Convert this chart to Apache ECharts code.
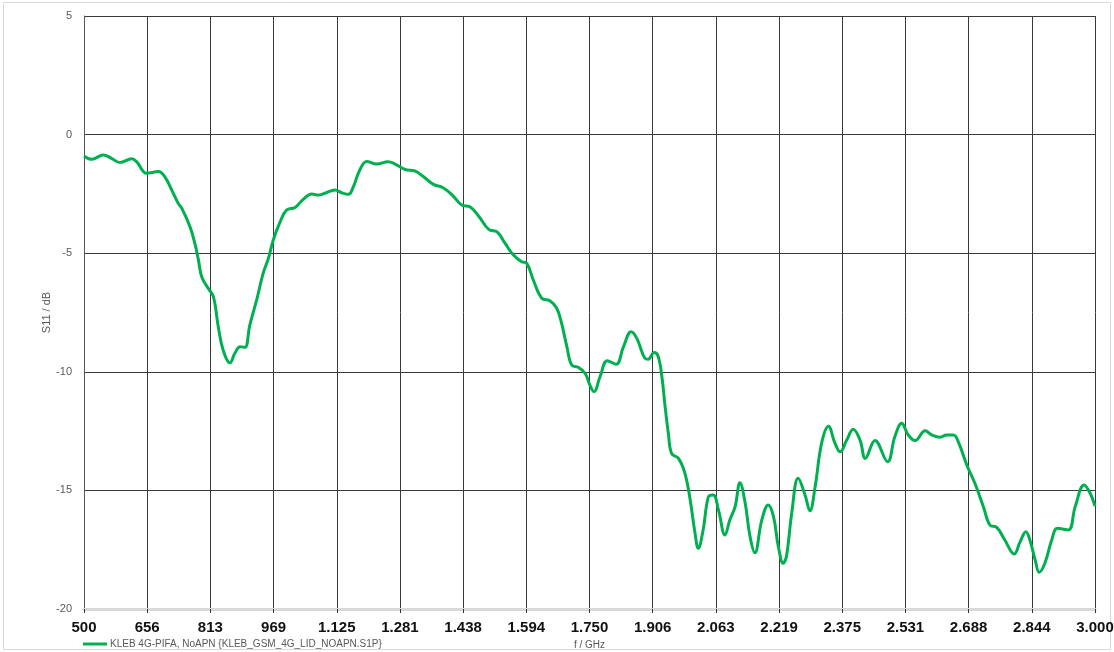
<!DOCTYPE html>
<html>
<head>
<meta charset="utf-8">
<script src="https://cdn.jsdelivr.net/npm/echarts@6/dist/echarts.min.js"></script>
<style>
html,body{margin:0;padding:0;background:#fff;}
#c{width:1114px;height:652px;}
</style>
</head>
<body>
<div id="c"></div>
<script>
// Frequency (MHz) and S11 (dB)
var freqMHz = [500,519,548,568,589,618,630,655,684,700,717,733,742,762,774,783,791,807,820,832,844,861,873,886,898,910,927,943,956,968,985,1001,1022,1042,1063,1079,1096,1121,1137,1154,1166,1182,1199,1224,1252,1269,1294,1318,1339,1364,1388,1413,1434,1455,1477,1501,1522,1541,1562,1582,1595,1611,1632,1652,1669,1681,1694,1706,1722,1739,1751,1761,1776,1794,1816,1834,1853,1867,1887,1895,1910,1920,1929,1937,1945,1953,1970,1986,1999,2011,2019,2031,2044,2056,2069,2085,2097,2110,2122,2135,2147,2159,2176,2192,2205,2217,2229,2237,2250,2266,2283,2295,2308,2324,2341,2357,2370,2386,2402,2419,2432,2456,2487,2505,2522,2538,2555,2580,2596,2617,2633,2650,2662,2683,2703,2724,2740,2757,2777,2800,2815,2829,2839,2852,2862,2876,2893,2907,2934,2951,2973,2988,3000];
var s11dB = [-0.90,-1.04,-0.86,-1.00,-1.18,-1.02,-1.14,-1.63,-1.56,-1.78,-2.34,-2.90,-3.11,-3.88,-4.58,-5.29,-5.99,-6.48,-6.83,-8.10,-9.08,-9.62,-9.22,-8.94,-8.97,-8.03,-6.97,-5.85,-5.22,-4.44,-3.68,-3.18,-3.07,-2.73,-2.50,-2.55,-2.47,-2.34,-2.45,-2.52,-2.20,-1.49,-1.13,-1.24,-1.14,-1.24,-1.47,-1.53,-1.77,-2.10,-2.24,-2.59,-2.97,-3.05,-3.46,-4.00,-4.11,-4.58,-5.08,-5.36,-5.43,-6.13,-6.90,-7.00,-7.32,-7.96,-8.94,-9.71,-9.81,-10.06,-10.56,-10.84,-10.21,-9.53,-9.68,-8.94,-8.31,-8.59,-9.43,-9.47,-9.19,-9.36,-10.21,-11.47,-12.59,-13.44,-13.65,-14.28,-15.40,-16.81,-17.44,-16.67,-15.27,-15.19,-15.83,-16.88,-16.25,-15.69,-14.68,-15.54,-16.95,-17.63,-16.25,-15.62,-16.11,-17.37,-18.07,-17.79,-15.97,-14.49,-15.19,-15.86,-14.84,-13.01,-12.30,-13.01,-13.37,-12.88,-12.42,-12.88,-13.65,-12.90,-13.79,-12.74,-12.17,-12.66,-12.90,-12.48,-12.66,-12.76,-12.66,-12.66,-12.95,-13.93,-14.70,-15.69,-16.46,-16.56,-17.09,-17.68,-17.16,-16.74,-17.09,-17.93,-18.45,-18.07,-17.09,-16.60,-16.67,-15.69,-14.77,-15.12,-15.66];
var xTickLabels = ['500','656','813','969','1.125','1.281','1.438','1.594','1.750','1.906','2.063','2.219','2.375','2.531','2.688','2.844','3.000'];
var yTickLabels = ['-20','-15','-10','-5','0','5'];
var seriesName = 'KLEB 4G-PIFA, NoAPN {KLEB_GSM_4G_LID_NOAPN.S1P}';

var pts = freqMHz.map(function(f,i){return [f, s11dB[i]];});
var chart = echarts.init(document.getElementById('c'), null, {renderer:'canvas'});
chart.setOption({
  animation:false,
  backgroundColor:'#fff',
  graphic:[{type:'rect',shape:{x:3.5,y:2.5,width:1107,height:647},style:{fill:'none',stroke:'#d9d9d9',lineWidth:1},silent:true,z:-10}],
  grid:{left:84,right:19,top:16,bottom:43,containLabel:false,outerBoundsMode:'none'},
  legend:{
    left:78,top:634,itemWidth:24,itemHeight:3,itemGap:4,
    icon:'rect',
    textStyle:{fontFamily:'Liberation Sans, Arial, sans-serif',fontSize:10,color:'#595959',padding:[0,0,0,-2]},
    data:[seriesName]
  },
  xAxis:{
    type:'value',min:500,max:3000,interval:156.25,
    name:'f / GHz',nameLocation:'middle',nameGap:30,
    nameTextStyle:{fontFamily:'Liberation Sans, Arial, sans-serif',fontSize:10,color:'#595959'},
    axisLine:{show:true,onZero:false,lineStyle:{color:'#d9d9d9',width:3}},
    axisTick:{show:true,length:4,lineStyle:{color:'#333',width:1}},
    axisLabel:{margin:11,fontFamily:'Liberation Sans, Arial, sans-serif',fontSize:15,fontWeight:'bold',color:'#111',
      formatter:function(v){var i=Math.round((v-500)/156.25);return xTickLabels[i]||'';}},
    splitLine:{show:true,lineStyle:{color:'#3a3a3a',width:1}}
  },
  yAxis:{
    type:'value',min:-20,max:5,interval:5,
    name:'S11 / dB',nameLocation:'middle',nameGap:32,nameRotate:90,nameMoveOverlap:false,
    nameTextStyle:{fontFamily:'Liberation Sans, Arial, sans-serif',fontSize:11,color:'#595959'},
    axisLine:{show:true,lineStyle:{color:'#555',width:1}},
    axisTick:{show:false},
    axisLabel:{margin:12,fontFamily:'Liberation Sans, Arial, sans-serif',fontSize:11,color:'#595959',
      formatter:function(v){var i=Math.round((v+20)/5);return yTickLabels[i];}},
    splitLine:{show:true,lineStyle:{color:'#3a3a3a',width:1}}
  },
  series:[{
    name:seriesName,type:'line',data:pts,smooth:0.4,symbol:'none',
    lineStyle:{color:'#00b050',width:3},itemStyle:{color:'#00b050'},z:5
  }]
});
</script>
</body>
</html>
